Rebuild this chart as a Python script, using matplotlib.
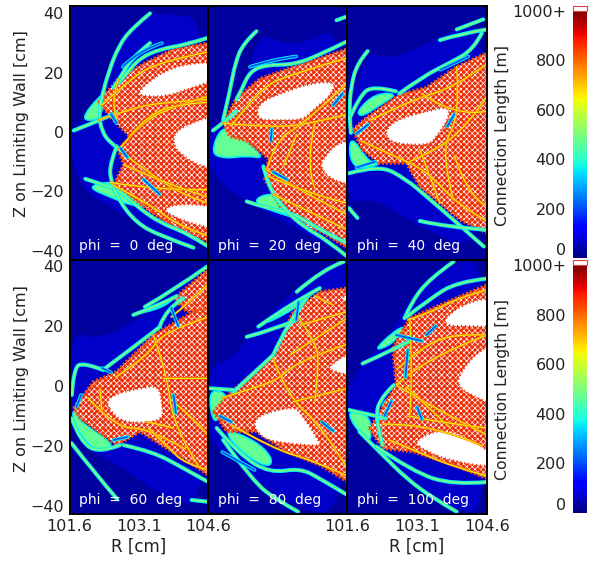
import matplotlib
matplotlib.use("Agg")
import matplotlib.pyplot as plt
from matplotlib.cm import ScalarMappable
from matplotlib.colors import Normalize
from matplotlib.patches import PathPatch, Polygon, Rectangle
from matplotlib.path import Path

phi_deg = [0, 20, 40, 60, 80, 100]
r_ticks = [101.6, 103.1, 104.6]
z_ticks = [-40, -20, 0, 20, 40]
cbar_ticks = [0, 200, 400, 600, 800, 1000]
cbar_labels = ["0", "200", "400", "600", "800", "1000+"]

# outer edge of the lighter blue halo, (R, Z)
halo_0 = [(101.6, 0), (102.12, 7.5), (102.66, 30), (103.34, 40), (103.7, 40), (104.6, 38), (104.6, -41.5),
          (103.56, -35), (102.84, -28.5), (102.33, -24), (101.83, -18.5), (101.6, -5)]
halo_1 = [(101.6, -1), (102.15, 8), (102.5, 22), (102.72, 34), (103.44, 28), (104.6, 37.5), (104.6, -42),
          (104.0, -37), (103.1, -29), (102.43, -24), (101.8, -16), (101.6, -10)]
halo_2 = [(101.6, 6), (102.04, 28), (102.5, 24), (103.59, 32), (104.6, 39), (104.6, -42),
          (103.16, -32), (102.15, -22), (101.6, -25)]
halo_3 = [(101.6, 19), (102.2, 15), (103.2, 23), (103.9, 32), (104.6, 40), (104.6, -42),
          (103.5, -36), (102.84, -28), (101.6, -18)]
halo_4 = [(101.6, 7), (102.14, 9), (102.43, 16.4), (103.58, 33.7), (104.37, 41.4), (104.6, 41.4),
          (104.6, -42), (103.54, -42), (102.0, -23), (101.6, -18)]
halo_5 = [(101.6, -0.8), (101.93, 7.5), (102.58, 18), (102.87, 28), (103.88, 41.4), (104.6, 42),
          (104.6, -42), (103.95, -42), (102.36, -24), (101.6, -12)]

# stochastic (red, speckled) zones
red_0 = [[(102.23, 10), (102.66, 18), (103.2, 23), (103.85, 28), (104.6, 30), (104.6, -37), (103.85, -32),
          (103.35, -27), (102.95, -22), (102.55, -18), (102.77, -11), (102.66, -6), (102.91, -1.5), (102.55, 4)]]
red_1 = [[(101.92, 3), (102.21, 11.5), (102.72, 18), (103.44, 22), (104.6, 28), (104.6, -39), (104.08, -34),
          (103.58, -31), (103.15, -25), (102.82, -16), (102.9, -9), (102.43, -3), (102.07, -1.5)]]
red_2 = [[(101.72, 0.8), (102.0, 4.7), (102.72, 12.6), (103.3, 15), (103.95, 22), (104.6, 26.7), (104.6, -34),
          (104.02, -29.6), (103.59, -24), (103.16, -18.4), (102.87, -10.5), (102.29, -10.5), (101.93, -6)]]
red_3 = [[(101.69, -7.4), (102.12, 1.4), (102.62, 4.8), (103.41, 17), (104.28, 24.8), (104.6, 26), (104.6, -29.7),
          (104.06, -24), (103.7, -20.8), (103.13, -15.2), (102.62, -19.7), (101.83, -10.8)],
         [(103.85, 29), (104.2, 33.7), (104.6, 39), (104.6, 26), (104.14, 24.8)]]
red_4 = [[(101.71, -8.6), (102.07, -2.4), (103.0, 10.3), (103.44, 24.8), (104.01, 31.4), (104.6, 32.6), (104.6, -31.9),
          (104.01, -26.3), (103.29, -21.9), (102.64, -15.2), (102.0, -15.2)]]
red_5 = [[(102.08, -14.2), (102.65, 0.3), (102.58, 12.6), (102.94, 22.6), (103.59, 27), (104.6, 33.7), (104.6, -30.8),
          (103.88, -26.3), (103.01, -21.9), (102.36, -20.8)]]

# confined regions left white
white_0 = [[(103.05, 12.7), (103.3, 17), (103.77, 21.5), (104.3, 23.3), (104.8, 23.6), (104.8, 17.7), (104.13, 14.3),
            (103.7, 12), (103.27, 12)],
           [(103.85, -0.3), (104.2, 3), (104.8, 5.9), (104.8, -12), (104.42, -11.6), (104.06, -8.2), (103.85, -4.8)],
           [(103.6, -26.2), (103.95, -24), (104.8, -25), (104.8, -33), (104.2, -30.7), (103.85, -28.5)]]
white_1 = [[(102.64, 6.4), (102.72, 10), (103.15, 13), (103.8, 16.5), (104.37, 17), (104.23, 12), (103.87, 7.5),
            (103.65, 4), (103.08, 4), (102.72, 4)],
           [(104.08, -9), (104.37, -3.7), (104.8, -2.6), (104.8, -18.4), (104.23, -16), (104.01, -11.6)]]
white_2 = [[(102.4, 0.2), (102.65, 4.2), (103.3, 7), (103.8, 8.7), (103.77, 4.2), (103.52, -1.5), (103.37, -4.3),
            (102.87, -4.3), (102.51, -3.2)]]
white_3 = [[(102.37, -5.2), (102.62, -2.4), (103.13, -0.8), (103.52, 0.3), (103.6, -5.2), (103.63, -11.9),
            (102.84, -12.4), (102.55, -9.7)]]
white_4 = [[(102.57, -11.9), (102.79, -9.1), (103.44, -6.9), (103.58, -8.6), (104.01, -18.6), (104.01, -20.2),
            (103.29, -19.1), (102.86, -18), (102.64, -15.2)],
           [(104.16, 6.4), (104.8, 12.6), (104.8, 3.1), (104.3, 4.8)],
           [(104.37, 29), (104.8, 31.4), (104.8, 27.6)]]
white_5 = [[(103.67, 22.6), (104.17, 28), (104.8, 29.7), (104.8, 19.5), (104.17, 20), (103.73, 20)],
           [(103.95, 2.5), (104.31, 10.3), (104.8, 14.8), (104.8, -6.8), (104.31, -3.4), (104.02, -0.8)],
           [(103.0, -18.6), (103.52, -14.7), (103.95, -15.2), (104.8, -23), (104.8, -27.4), (103.88, -25.2), (103.3, -21.9)]]

# green lobes outside the separatrix
lobe_0 = [[(101.83, 4), (102.23, 12), (102.48, 14), (102.3, 7.5), (102.23, 4)],
          [(101.97, -18.5), (102.48, -16.5), (103.05, -19), (103.47, -25), (102.97, -25), (102.48, -22)]]
lobe_1 = [[(101.64, -7), (101.92, 3), (102.43, -3), (102.82, -9), (102.43, -8), (101.95, -9)],
          [(102.5, -23.4), (103.0, -20), (103.6, -25), (104.0, -31), (103.2, -28)]]
lobe_2 = [[(101.64, -3.7), (101.75, -2.6), (102.08, -10.5), (102.36, -10.5), (101.93, -12.7), (101.68, -10.5)],
          [(101.8, 7), (102.2, 13), (102.7, 13), (102.3, 9), (101.9, 5)]]
lobe_3 = [[(101.69, -7.4), (101.83, -12), (102.62, -19.7), (102.26, -22.4), (101.9, -18), (101.66, -10.8)],
          [(102.98, 23.7), (103.56, 27), (103.92, 30), (103.6, 26)]]
lobe_4 = [[(101.64, -0.8), (102.07, -3), (101.78, -13), (101.64, -8.6)],
          [(102.7, 19.8), (103.44, 28), (104.01, 32.6), (103.4, 25)],
          [(101.9, -14), (102.6, -18), (103.0, -24), (102.9, -27.5), (102.3, -22)]]
lobe_5 = [[(101.64, -8), (102.11, -9.7), (102.11, -19.7), (101.86, -15.2), (101.68, -11.6)],
          [(102.29, -6), (102.65, -2.6), (102.94, -9.7), (102.51, -10.8)],
          [(102.15, 11.5), (102.58, 18), (102.87, 20.3), (102.58, 14)]]

# field-line bands, (R, Z) along the band
band_0 = [[(103.34, 40), (102.95, 35), (102.66, 29), (102.44, 20), (102.3, 12), (102.23, 6), (102.3, 0.2), (102.48, -3.7), (102.69, -6)],
          [(104.6, 31.8), (104.13, 29.5), (103.56, 28), (103.13, 25), (102.87, 20.5), (102.66, 16.5)],
          [(103.34, 30), (102.95, 25), (102.72, 19), (102.55, 15)],
          [(101.69, 0.5), (102.26, 4), (102.62, 6.4)],
          [(101.94, -15.8), (102.33, -17.8), (102.66, -19.5), (103.05, -25), (103.56, -30.7), (104.13, -34), (104.6, -38.6)],
          [(102.62, -4.8), (102.48, -10.5), (102.48, -16), (102.66, -23), (103.05, -30.7), (103.56, -35), (104.28, -39)]]
band_1 = [[(102.64, 34), (102.36, 30), (102.18, 23.3), (102.07, 14), (101.92, 4)],
          [(104.6, 30.6), (104.01, 26), (103.44, 22.7), (102.86, 22.7), (102.5, 20.5), (102.32, 14.3), (102.21, 11)],
          [(104.6, 39), (104.37, 37.7)],
          [(101.7, 0.5), (101.92, 3), (102.21, 7)],
          [(102.43, -23.4), (102.86, -25.7), (103.44, -27.4), (104.01, -33), (104.6, -37.5)],
          [(102.79, -11.6), (102.9, -18.4), (103.22, -25.7), (103.65, -31.9), (104.16, -36.4), (104.6, -42)]]
band_2 = [[(102.04, 27.3), (101.82, 23.3), (101.68, 15.4), (101.64, 6.4), (101.68, -0.3)],
          [(101.64, 4.2), (101.86, 12), (102.15, 15.7), (102.65, 13.7)],
          [(102.72, 13), (103.23, 18.8), (103.8, 23.3), (104.31, 27.8), (104.49, 33.4)],
          [(103.59, 31), (104.09, 33.4), (104.6, 34.6)],
          [(103.95, 34.6), (104.52, 38)],
          [(101.64, -13.9), (102.29, -11), (102.87, -16), (103.3, -21.7), (103.88, -29.6), (104.53, -38.6)],
          [(103.16, -30), (103.73, -32), (104.6, -33)],
          [(101.64, -25.7), (101.82, -29)]]
band_3 = [[(101.65, -3), (101.69, 5.9), (101.9, 7.9), (102.33, 5.3)],
          [(102.37, 5.9), (102.99, 13), (103.56, 19.8)],
          [(102.98, 23.7), (103.56, 27), (103.92, 30)],
          [(103.23, 26.4), (103.92, 32.6), (104.57, 39.8)],
          [(103.56, 20.3), (103.7, 25.9), (104.06, 29.2)],
          [(101.65, -10.8), (101.83, -18.6), (102.26, -22.4), (102.69, -19.7)],
          [(102.77, -19.7), (103.41, -21.9), (104.06, -27.4), (104.6, -32)],
          [(101.64, -19), (102.12, -28.5), (102.63, -37.7)],
          [(104.24, -38), (104.6, -38.6)]]
band_4 = [[(102.43, 16.4), (103.0, 18.7), (103.5, 22)],
          [(102.68, 19.8), (103.44, 28), (104.01, 32.6)],
          [(103.51, 31.4), (104.08, 39), (104.52, 41.4)],
          [(103.0, 10.3), (103.29, 20.3), (103.72, 29.2)],
          [(102.14, -2), (103.0, 10.3)],
          [(101.64, -0.8), (102.14, -1.3)],
          [(101.78, -14), (102.28, -23), (102.93, -29), (103.58, -27.4), (104.01, -30.8), (104.6, -36.3)],
          [(101.92, -18), (102.57, -31.9), (103.08, -38), (103.54, -41.9)]]
band_5 = [[(103.88, 41.4), (103.37, 35.8), (102.98, 28), (102.83, 22.6)],
          [(104.6, 35.8), (103.95, 34.7), (103.37, 29), (102.87, 23)],
          [(101.93, 7.5), (102.58, 12), (102.94, 15)],
          [(101.64, -8), (102.15, -9.7), (102.43, -10.8)],
          [(102.6, 0.3), (102.37, -3), (102.18, -9.7), (102.36, -19.7)],
          [(101.86, -15.2), (102.36, -23), (102.87, -30.8), (103.44, -37.4), (103.95, -41.9)],
          [(102.22, -20.2), (103.01, -28.6), (103.88, -33), (104.6, -32)]]

# yellow and orange filaments inside the red zones
thread_0 = [[(102.23, 4), (102.84, 7.5), (103.56, 10), (104.6, 11)],
            [(102.66, -6), (103.13, 3), (103.85, 8.7), (104.6, 12)],
            [(102.66, -6), (103.41, -15), (104.13, -21.7), (104.6, -24)],
            [(102.48, -17), (103.41, -19.5), (104.6, -19.5)],
            [(102.66, 17.7), (102.48, 11), (102.62, 4)],
            [(102.3, 9), (102.9, 18), (103.6, 24), (104.6, 27)],
            [(102.9, -1.5), (103.3, 6), (104.0, 9.5), (104.6, 10)],
            [(102.55, -18), (103.3, -24), (104.0, -32), (104.6, -35)],
            [(102.77, -11), (103.6, -17), (104.6, -22)]]
thread_1 = [[(101.92, 3), (103.0, 1.4), (103.87, 3), (104.6, 6)],
            [(102.86, -12.7), (103.08, -1.5), (103.44, 0.8)],
            [(103.22, -11.6), (103.51, -0.8)],
            [(102.86, -12.7), (103.65, -20.6), (104.6, -27.8)],
            [(103.44, 0.8), (104.01, 7.5), (104.6, 16.5)],
            [(102.1, 2), (102.7, 15), (103.5, 20), (104.6, 25)],
            [(103.0, -21), (103.8, -27), (104.6, -33)],
            [(102.9, -15), (103.8, -21), (104.6, -24)],
            [(103.9, 3), (103.7, -11), (103.9, -19)]]
thread_2 = [[(103.95, 22), (104.02, 5.3), (103.59, -6), (103.88, -22.9)],
            [(102.87, -10.5), (103.52, -6), (104.16, 1.9), (104.6, 12)],
            [(103.16, -6), (103.59, -24)],
            [(102.1, 4), (103.0, 11), (103.9, 15), (104.6, 23)],
            [(101.9, -3), (102.6, -8), (103.3, -13), (104.0, -25), (104.6, -30)],
            [(103.2, 13), (103.9, 5), (104.6, 7)],
            [(103.9, -8), (104.2, -22), (104.6, -25)]]
thread_3 = [[(103.41, 17), (103.7, 4.8), (103.85, -14), (104.42, -27.4)],
            [(103.63, 2.6), (104.6, 2.6)],
            [(103.85, -5.2), (104.28, -10.8), (104.6, -16.3)],
            [(102.26, -0.8), (102.3, -8.6)],
            [(103.85, -14), (103.27, -11.9)],
            [(102.0, -4), (102.6, -14), (103.3, -14), (104.1, -21)],
            [(102.6, 3), (103.3, 10), (103.6, 18), (104.6, 23)],
            [(103.3, -14), (103.7, -20), (104.1, -26), (104.6, -28)],
            [(103.8, 23), (104.2, 28), (104.6, 34)]]
thread_4 = [[(103.0, 9.2), (103.29, -3), (104.08, -14), (104.6, -27.4)],
            [(103.36, 10.3), (104.6, 22.6)],
            [(103.58, 20.3), (104.6, 24.8)],
            [(103.44, -5.2), (104.6, -0.8)],
            [(101.9, -4), (102.5, -1), (103.1, 2), (103.5, 8), (104.6, 14)],
            [(102.1, -13), (103.0, -21), (103.9, -25), (104.6, -30)],
            [(103.5, 24), (103.9, 15), (104.0, 8), (103.9, -5)],
            [(103.9, 30), (104.3, 27)]]
thread_5 = [[(102.65, 0.3), (103.59, -8.6), (104.6, -16.3)],
            [(102.65, 0.3), (103.23, 9), (104.6, 17)],
            [(102.94, 22.6), (103.01, 5), (102.94, -10)],
            [(102.87, -0.3), (103.8, -13.8)],
            [(102.36, -12.7), (103.44, -12.5), (104.5, -20)],
            [(102.9, 22), (103.4, 24.5), (104.0, 29.5), (104.6, 32)],
            [(102.5, -18), (103.2, -22.5), (103.9, -27), (104.6, -30)],
            [(102.7, 6), (103.2, 13), (103.9, 17.5), (104.6, 17)],
            [(102.9, -10), (103.7, -12.5), (104.6, -14)]]

# cyan and blue gaps where bands split or cross
gap_0 = [[(103.2, -16), (103.55, -21)], [(102.75, 22), (103.1, 27.5), (103.6, 30)], [(102.5, 6), (102.62, 3)],
         [(102.7, -5.5), (102.85, -8.5)]]
gap_1 = [[(102.97, 1), (102.95, -3)], [(103.0, -13.5), (103.3, -16)], [(104.3, 9), (104.5, 13)],
         [(102.5, 22), (103.0, 24.5), (103.5, 25.5)]]
gap_2 = [[(103.9, 6), (103.75, 2)], [(101.8, -0.5), (102.05, 2.5)], [(102.2, -10), (101.8, -12)],
         [(103.6, 21), (104.2, 25.5)]]
gap_3 = [[(103.85, -3), (103.9, -9)], [(101.75, -7), (101.85, -3)], [(102.5, 4.5), (102.3, 6)],
         [(103.8, 26), (103.95, 20)], [(102.55, -18), (102.85, -17)]]
gap_4 = [[(103.5, 22), (103.55, 28)], [(104.05, -12), (104.3, -15)], [(102.1, -12), (101.85, -10)],
         [(101.9, -22), (102.6, -28)]]
gap_5 = [[(102.85, 3), (102.9, 12)], [(103.3, 17), (103.5, 20)], [(102.55, -5), (102.4, -10)],
         [(103.1, -7), (103.2, -11)], [(102.65, 17), (103.2, 15)]]

halos = [halo_0, halo_1, halo_2, halo_3, halo_4, halo_5]
reds = [red_0, red_1, red_2, red_3, red_4, red_5]
whites = [white_0, white_1, white_2, white_3, white_4, white_5]
lobes = [lobe_0, lobe_1, lobe_2, lobe_3, lobe_4, lobe_5]
bands = [band_0, band_1, band_2, band_3, band_4, band_5]
threads = [thread_0, thread_1, thread_2, thread_3, thread_4, thread_5]
gaps = [gap_0, gap_1, gap_2, gap_3, gap_4, gap_5]

W, H = 593, 561
plt.rcParams["font.family"] = "DejaVu Sans"
plt.rcParams["hatch.linewidth"] = 0.55
cmap = plt.get_cmap("jet")
text_col = "#222222"


def px_axes(fig, x0, y0, x1, y1):
    return fig.add_axes([x0 / W, 1 - y1 / H, (x1 - x0) / W, (y1 - y0) / H])


def mid(a, b):
    return ((a[0] + b[0]) / 2, (a[1] + b[1]) / 2)


def open_path(pts):
    # quadratic segments through the midpoints, rounds off the read-off corners
    verts, codes = [pts[0]], [Path.MOVETO]
    for a, b in zip(pts[1:-1], pts[2:]):
        end = b if b == pts[-1] else mid(a, b)
        verts += [a, end]
        codes += [Path.CURVE3, Path.CURVE3]
    if len(pts) == 2:
        verts.append(pts[1])
        codes.append(Path.LINETO)
    return Path(verts, codes)


def closed_path(pts):
    n = len(pts)
    verts, codes = [mid(pts[-1], pts[0])], [Path.MOVETO]
    for i in range(n):
        verts += [pts[i], mid(pts[i], pts[(i + 1) % n])]
        codes += [Path.CURVE3, Path.CURVE3]
    return Path(verts, codes)


def stroke(ax, curve, color, lw):
    ax.add_patch(PathPatch(open_path(curve), fc="none", ec=color, lw=lw, capstyle="round"))


def draw_panel(ax, i):
    ax.set_facecolor(cmap(0.03))
    ax.add_patch(PathPatch(closed_path(halos[i]), fc=cmap(0.065), ec="none"))
    for poly in lobes[i]:
        ax.add_patch(PathPatch(closed_path(poly), fc=cmap(0.47), ec=cmap(0.36), lw=1.2))
    for poly in reds[i]:
        ax.add_patch(Polygon(poly, fc="#ee2a08", ec="white", hatch="xxxxxx", lw=0))
        ax.add_patch(Polygon(poly, fc="none", ec="#f03c08", hatch="++", lw=0))
        ax.add_patch(Polygon(poly, fc="none", ec="#f0500c", lw=2.4, ls=(0, (0.6, 0.6))))
    for poly in whites[i]:
        ax.add_patch(PathPatch(closed_path(poly), fc="white", ec="#e8300c", lw=1.6, ls=(0, (0.5, 1.3))))
    for curve in bands[i]:
        stroke(ax, curve, cmap(0.36), 2.9)
        stroke(ax, curve, cmap(0.5), 1.2)
    for curve in threads[i]:
        stroke(ax, curve, cmap(0.78), 1.6)
        stroke(ax, curve, cmap(0.64), 0.7)
    for curve in gaps[i]:
        stroke(ax, curve, cmap(0.36), 2.6)
        stroke(ax, curve, cmap(0.2), 1.2)
    ax.set_xlim(101.6, 104.6)
    ax.set_xticks(r_ticks)
    ax.set_yticks(z_ticks)
    ax.tick_params(direction="in", length=2, width=0.5, color="#333333", labelsize=11.5,
                   labelcolor=text_col, left=False, labelleft=False, labelbottom=False)
    for s in ax.spines.values():
        s.set_linewidth(1.4)
    ax.text(0.07, 0.055, f"phi  =  {phi_deg[i]}  deg", transform=ax.transAxes, color="white",
            fontsize=10, va="center", ha="left")


fig = plt.figure(figsize=(W / 100, H / 100), dpi=100)
col_x = [69.5, 208.3, 347.2, 487]
rows = [(6, 259.5, -43, 42.5), (260, 513.5, -42.5, 42)]

for i in range(6):
    r, c = i // 3, i % 3
    ax = px_axes(fig, col_x[c], rows[r][0], col_x[c + 1], rows[r][1])
    draw_panel(ax, i)
    ax.set_ylim(rows[r][2], rows[r][3])
    if c == 0:
        ax.tick_params(labelleft=True, pad=4)
    if r == 1 and c != 1:
        ax.set_xlabel("R [cm]", fontsize=12, color=text_col, labelpad=3)
        ax.tick_params(labelbottom=True, pad=4)

for r, (y0, y1) in enumerate([(11, 258), (265, 513)]):
    cax = px_axes(fig, 573, y0, 587, y1)
    sm = ScalarMappable(norm=Normalize(0, 1000), cmap=cmap)
    cb = fig.colorbar(sm, cax=cax)
    cb.outline.set_visible(False)
    cax.yaxis.set_ticks_position("left")
    cb.set_ticks(cbar_ticks)
    cb.set_ticklabels(cbar_labels)
    cax.tick_params(length=0, labelsize=11.5, labelcolor=text_col, pad=5)
    cax.get_yticklabels()[0].set_va("bottom")
    fig.add_artist(Rectangle((573 / W, 1 - y0 / H), 14 / W, 5 / H, transform=fig.transFigure,
                             fc="white", ec="#e04040", lw=0.8))

for yc in [124, 379]:
    fig.text(22 / W, 1 - yc / H, "Z on Limiting Wall [cm]", rotation=90, ha="center", va="center",
             fontsize=11.5, color=text_col)
for yc in [135, 389]:
    fig.text(502 / W, 1 - yc / H, "Connection Length [m]", rotation=90, ha="center", va="center",
             fontsize=11.3, color=text_col)

fig.savefig("out.png", dpi=100)
